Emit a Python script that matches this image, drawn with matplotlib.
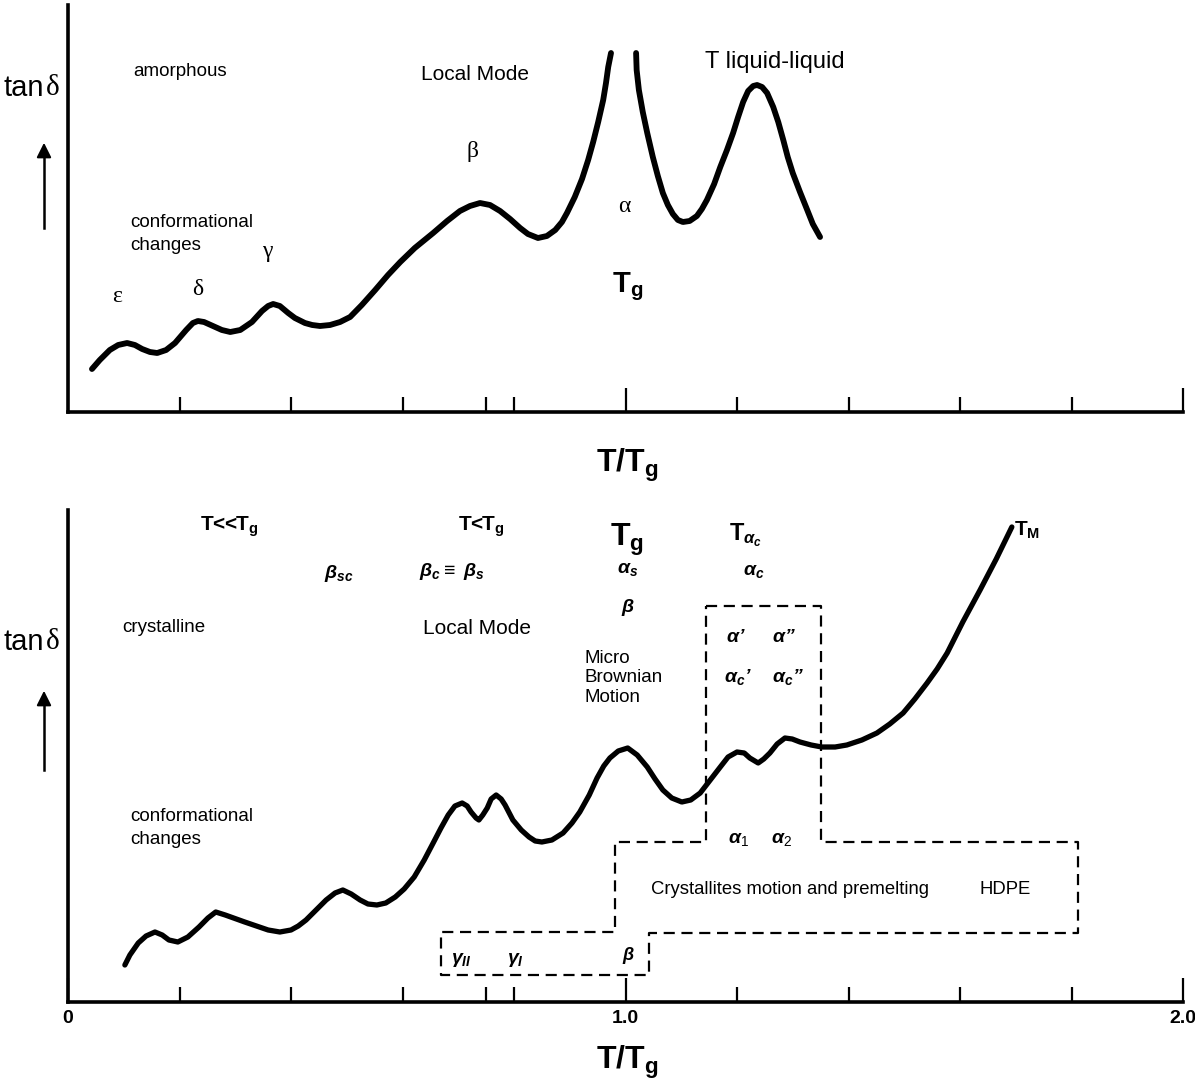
import matplotlib.pyplot as plt

plt.rcParams['font.family'] = 'Liberation Sans'
plt.rcParams['mathtext.fontset'] = 'custom'
plt.rcParams['mathtext.rm'] = 'Liberation Sans'
plt.rcParams['mathtext.bf'] = 'Liberation Sans:bold'
plt.rcParams['mathtext.it'] = 'Liberation Sans:italic:bold'

# amorphous polymer, tan delta vs T/Tg (arbitrary units)
amo_x_low = [0.043, 0.057, 0.075, 0.090, 0.106, 0.120, 0.133, 0.147, 0.160, 0.176,
             0.192, 0.212, 0.224, 0.233, 0.244, 0.260, 0.276, 0.291, 0.309, 0.330,
             0.348, 0.359, 0.368, 0.380, 0.395, 0.407, 0.425, 0.438, 0.452, 0.470,
             0.488, 0.506, 0.527, 0.551, 0.574, 0.596, 0.622, 0.655, 0.680, 0.703,
             0.721, 0.739, 0.757, 0.775, 0.793, 0.811, 0.825, 0.843, 0.859, 0.874,
             0.886, 0.895, 0.909, 0.922, 0.933, 0.942, 0.951, 0.960, 0.965, 0.969,
             0.974]
amo_y_low = [43, 52, 62, 67, 69, 67, 63, 60, 59, 62,
             69, 82, 89, 91, 90, 86, 82, 80, 82, 90,
             101, 106, 108, 106, 99, 94, 89, 87, 86, 87,
             90, 95, 107, 122, 137, 150, 164, 179, 191, 201,
             206, 209, 207, 201, 193, 184, 178, 174, 176, 182,
             190, 199, 215, 233, 252, 270, 290, 312, 329, 345,
             359]
amo_x_high = [1.019, 1.020, 1.024, 1.031, 1.039, 1.049, 1.058, 1.067, 1.076, 1.085,
              1.094, 1.103, 1.115, 1.128, 1.137, 1.146, 1.159, 1.170, 1.182, 1.193,
              1.202, 1.211, 1.220, 1.229, 1.236, 1.245, 1.254, 1.265, 1.274, 1.283,
              1.291, 1.300, 1.313, 1.326, 1.336, 1.349]
amo_y_high = [359, 342, 322, 300, 279, 255, 236, 219, 207, 198,
              192, 190, 191, 196, 203, 212, 228, 245, 262, 279,
              295, 310, 321, 326, 327, 325, 319, 305, 290, 272,
              255, 239, 220, 202, 188, 175]

# HDPE (crystalline)
hdpe_x = [0.102, 0.111, 0.126, 0.140, 0.156, 0.169, 0.181, 0.197, 0.215, 0.235,
          0.251, 0.265, 0.282, 0.317, 0.359, 0.380, 0.400, 0.413, 0.427, 0.445,
          0.463, 0.479, 0.493, 0.508, 0.524, 0.538, 0.554, 0.570, 0.587, 0.603,
          0.621, 0.639, 0.655, 0.669, 0.682, 0.694, 0.707, 0.716, 0.723, 0.732,
          0.737, 0.744, 0.752, 0.759, 0.768, 0.777, 0.784, 0.798, 0.813, 0.827,
          0.838, 0.850, 0.868, 0.888, 0.904, 0.918, 0.935, 0.949, 0.961, 0.972,
          0.987, 1.004, 1.021, 1.039, 1.053, 1.067, 1.083, 1.101, 1.117, 1.134,
          1.152, 1.170, 1.184, 1.200, 1.213, 1.223, 1.238, 1.248, 1.259, 1.272,
          1.286, 1.299, 1.313, 1.333, 1.352, 1.376, 1.397, 1.424, 1.451, 1.474,
          1.498, 1.519, 1.541, 1.559, 1.577, 1.605, 1.636, 1.665, 1.693]
hdpe_y = [37, 47, 59, 66, 70, 67, 62, 60, 65, 75,
          84, 90, 87, 80, 72, 70, 72, 76, 82, 92,
          102, 109, 112, 108, 102, 98, 97, 99, 105, 113,
          125, 142, 159, 174, 187, 196, 199, 196, 190, 184,
          182, 187, 194, 203, 207, 203, 197, 182, 172, 165,
          161, 160, 162, 169, 179, 190, 207, 224, 236, 244,
          251, 254, 247, 235, 223, 212, 204, 200, 202, 209,
          222, 235, 245, 250, 249, 244, 239, 243, 249, 258,
          264, 263, 260, 257, 255, 255, 257, 262, 269, 278,
          289, 303, 319, 333, 349, 380, 412, 443, 475]

# dashed outline of the relaxation regions
box_x = [1.144, 1.351, 1.351, 1.812, 1.812, 1.042, 1.042, 0.669, 0.669, 0.981, 0.981, 1.144, 1.144]
box_y = [396, 396, 160, 160, 69, 69, 27, 27, 70, 70, 160, 160, 396]

tick_minor = [0.2, 0.4, 0.6, 0.75, 0.8, 1.2, 1.4, 1.6, 1.8]

W, H = 1195, 1086
fig = plt.figure(figsize=(W / 100, H / 100), dpi=100)
ax1 = fig.add_axes([68 / W, 1 - 412 / H, 1115 / W, 407 / H])
ax2 = fig.add_axes([68 / W, 1 - 1002 / H, 1115 / W, 492 / H])

for ax in (ax1, ax2):
    ax.spines['top'].set_visible(False)
    ax.spines['right'].set_visible(False)
    ax.spines['left'].set_linewidth(2.6)
    ax.spines['bottom'].set_linewidth(2.6)
    ax.set_xlim(0, 2)
    ax.set_yticks([])
    ax.set_xticks(tick_minor, minor=True)
    ax.tick_params(axis='x', which='minor', direction='in', length=11, width=1.6)
    ax.tick_params(axis='x', which='major', direction='in', length=17, width=1.6)

ax1.set_ylim(0, 407)
ax2.set_ylim(0, 492)

ax1.set_xticks([1.0, 2.0])
ax1.set_xticklabels([])
ax2.set_xticks([0, 1.0, 2.0])
ax2.set_xticklabels(['0', '1.0', '2.0'], fontsize=14, fontweight='bold')
ax2.tick_params(axis='x', which='major', pad=6)

curve = dict(color='black', solid_capstyle='round', solid_joinstyle='round')
ax1.plot(amo_x_low, amo_y_low, lw=4.2, **curve)
ax1.plot(amo_x_high, amo_y_high, lw=4.2, **curve)
ax2.plot(hdpe_x, hdpe_y, lw=3.8, **curve)
ax2.plot(box_x, box_y, color='black', lw=1.6, ls=(0, (5, 3)))

# top panel labels
serif = 'Liberation Serif'
ax1.text(0.201, 340, 'amorphous', fontsize=13.5, ha='center', va='center')
ax1.text(0.111, 178, 'conformational\nchanges', fontsize=13.5, ha='left', va='center',
         linespacing=1.45)
ax1.text(0.088, 115, 'ε', family=serif, fontsize=17, ha='center', va='center')
ax1.text(0.233, 122, 'δ', family=serif, fontsize=17, ha='center', va='center')
ax1.text(0.357, 160, 'γ', family=serif, fontsize=17, ha='center', va='center')
ax1.text(0.730, 338, 'Local Mode', fontsize=15, ha='center', va='center')
ax1.text(0.725, 260, 'β', family=serif, fontsize=17, ha='center', va='center')
ax1.text(0.997, 205, 'α', family=serif, fontsize=17, ha='center', va='center')
ax1.text(1.003, 125, r'$\mathbf{T_g}$', fontsize=21, ha='center', va='center')
ax1.text(1.268, 350, 'T liquid-liquid', fontsize=17, ha='center', va='center')

# bottom panel labels
bi = dict(fontsize=14, ha='center', va='center', fontweight='bold', style='italic')
ax2.text(0.289, 475, r'T<<T$_\mathbf{g}$', fontsize=15, fontweight='bold',
         ha='center', va='center')
ax2.text(0.486, 429, r'$\beta_{sc}$', **bi)
ax2.text(0.172, 375, 'crystalline', fontsize=13.5, ha='center', va='center')
ax2.text(0.741, 475, r'T<T$_\mathbf{g}$', fontsize=15, fontweight='bold',
         ha='center', va='center')
ax2.text(0.689, 431, r'$\beta_c \equiv\ \beta_s$', **bi)
ax2.text(0.734, 374, 'Local Mode', fontsize=15, ha='center', va='center')
ax2.text(1.003, 462, r'$\mathbf{T_g}$', fontsize=23, ha='center', va='center')
ax2.text(1.004, 432, r'$\alpha_s$', **bi)
ax2.text(1.004, 395, r'$\beta$', **bi)
ax2.text(0.927, 324, 'Micro\nBrownian\nMotion', fontsize=13.5, ha='left', va='center',
         linespacing=1.2)
ax2.text(1.216, 467, r'$\mathbf{T}_{\alpha_c}$', fontsize=17, ha='center', va='center')
ax2.text(1.230, 430, r'$\alpha_c$', **bi)
ax2.text(1.198, 365, r'$\alpha$’', **bi)
ax2.text(1.284, 365, r'$\alpha$”', **bi)
ax2.text(1.202, 325, r'$\alpha_c$’', **bi)
ax2.text(1.291, 325, r'$\alpha_c$”', **bi)
ax2.text(1.697, 472, r'$\mathbf{T_M}$', fontsize=15, ha='left', va='center')
ax2.text(1.202, 162, r'$\alpha_1$', **bi)
ax2.text(1.279, 162, r'$\alpha_2$', **bi)
ax2.text(1.295, 112, 'Crystallites motion and premelting', fontsize=13.3,
         ha='center', va='center')
ax2.text(1.681, 112, 'HDPE', fontsize=13.3, ha='center', va='center')
ax2.text(0.705, 42, r'$\gamma_{II}$', **bi)
ax2.text(0.802, 42, r'$\gamma_{I}$', **bi)
ax2.text(1.006, 46, r'$\beta$', **dict(bi, fontsize=13))
ax2.text(0.111, 174, 'conformational\nchanges', fontsize=13.5, ha='left', va='center',
         linespacing=1.45)

# y-axis labels with arrows, x-axis titles
for py, tail, tip in [(88, 228, 140), (642, 770, 688)]:
    fig.text(4 / W, 1 - py / H, 'tan', fontsize=21, ha='left', va='center')
    fig.text(46 / W, 1 - py / H, 'δ', family=serif, fontsize=21, ha='left', va='center')
    fig.add_artist(plt.Line2D([44 / W, 44 / W], [1 - tail / H, 1 - (tip + 14) / H],
                              color='black', lw=1.8))
    ax1.annotate('', xy=(44 / W, 1 - tip / H), xytext=(44 / W, 1 - (tip + 16) / H),
                 xycoords='figure fraction', textcoords='figure fraction',
                 arrowprops=dict(arrowstyle='-|>', color='black', lw=1.5,
                                 mutation_scale=22))

fig.text(627 / W, 1 - 465 / H, r'$\mathbf{T/T_g}$', fontsize=23, ha='center', va='center')
fig.text(627 / W, 1 - 1062 / H, r'$\mathbf{T/T_g}$', fontsize=23, ha='center', va='center')

fig.savefig('out.png', dpi=100)
